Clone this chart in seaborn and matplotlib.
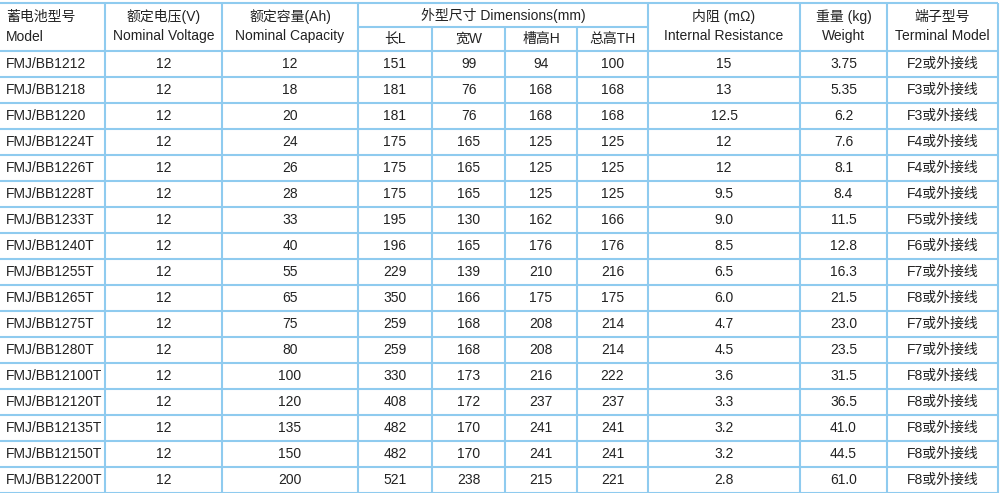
import matplotlib
matplotlib.use("Agg")
import matplotlib.pyplot as plt
import seaborn as sns

models = ["FMJ/BB1212", "FMJ/BB1218", "FMJ/BB1220", "FMJ/BB1224T", "FMJ/BB1226T",
          "FMJ/BB1228T", "FMJ/BB1233T", "FMJ/BB1240T", "FMJ/BB1255T", "FMJ/BB1265T",
          "FMJ/BB1275T", "FMJ/BB1280T", "FMJ/BB12100T", "FMJ/BB12120T", "FMJ/BB12135T",
          "FMJ/BB12150T", "FMJ/BB12200T"]
voltage = ["12"] * 17
capacity = ["12", "18", "20", "24", "26", "28", "33", "40", "55", "65", "75", "80",
            "100", "120", "135", "150", "200"]
length = ["151", "181", "181", "175", "175", "175", "195", "196", "229", "350", "259",
          "259", "330", "408", "482", "482", "521"]
width = ["99", "76", "76", "165", "165", "165", "130", "165", "139", "166", "168",
         "168", "173", "172", "170", "170", "238"]
height_h = ["94", "168", "168", "125", "125", "125", "162", "176", "210", "175", "208",
            "208", "216", "237", "241", "241", "215"]
height_th = ["100", "168", "168", "125", "125", "125", "166", "176", "216", "175", "214",
             "214", "222", "237", "241", "241", "221"]
resistance = ["15", "13", "12.5", "12", "12", "9.5", "9.0", "8.5", "6.5", "6.0", "4.7",
              "4.5", "3.6", "3.3", "3.2", "3.2", "2.8"]
weight = ["3.75", "5.35", "6.2", "7.6", "8.1", "8.4", "11.5", "12.8", "16.3", "21.5",
          "23.0", "23.5", "31.5", "36.5", "41.0", "44.5", "61.0"]
terminal = ["F2或外接线", "F3或外接线", "F3或外接线", "F4或外接线", "F4或外接线",
            "F4或外接线", "F5或外接线", "F6或外接线", "F7或外接线", "F8或外接线",
            "F7或外接线", "F7或外接线", "F8或外接线", "F8或外接线", "F8或外接线",
            "F8或外接线", "F8或外接线"]

headers = [("蓄电池型号", "Model"), ("额定电压(V)", "Nominal Voltage"),
           ("额定容量(Ah)", "Nominal Capacity")]
dim_title = "外型尺寸 Dimensions(mm)"
dim_sub = ["长L", "宽W", "槽高H", "总高TH"]
headers_right = [("内阻 (mΩ)", "Internal Resistance"), ("重量 (kg)", "Weight"),
                 ("端子型号", "Terminal Model")]

sns.set_theme(style="white")
plt.rcParams['font.family'] = ['Liberation Sans', 'Noto Sans CJK SC', 'DejaVu Sans']

cols = [models, voltage, capacity, length, width, height_h, height_th, resistance, weight, terminal]
edges = [0, 105, 222, 358, 432, 505, 577, 648, 800, 887, 998]
line_c = "#8fcbef"
txt_c = "#222222"
top, head_bot, sub_y, row_h = 3, 51, 27, 26

fig = plt.figure(figsize=(10, 4.93), dpi=100)
ax = fig.add_axes([0, 0, 1, 1])
ax.set_xlim(0, 1000)
ax.set_ylim(493, 0)
ax.axis("off")

n = len(models)
ax.hlines([top, head_bot] + [head_bot + row_h * (i + 1) for i in range(n)], 0, edges[-1],
          color=line_c, lw=1.5)
ax.hlines(sub_y, edges[3], edges[7], color=line_c, lw=1.5)
for i, x in enumerate(edges[1:]):
    y0 = sub_y if i + 1 in (4, 5, 6) else top
    ax.vlines(x, y0, head_bot + row_h * n, color=line_c, lw=1.5)

fs = 10
for i, (cn, en) in enumerate(headers):
    if i == 0:
        ax.text(6, 17, cn, ha="left", va="center", fontsize=fs, color=txt_c)
        ax.text(6, 37, en, ha="left", va="center", fontsize=fs, color=txt_c)
    else:
        xc = (edges[i] + edges[i + 1]) / 2
        ax.text(xc, 17, cn, ha="center", va="center", fontsize=fs, color=txt_c)
        ax.text(xc, 36, en, ha="center", va="center", fontsize=fs, color=txt_c)
ax.text((edges[3] + edges[7]) / 2, 15, dim_title, ha="center", va="center", fontsize=fs, color=txt_c)
for j, s in enumerate(dim_sub):
    ax.text((edges[3 + j] + edges[4 + j]) / 2, 39, s, ha="center", va="center", fontsize=fs, color=txt_c)
for j, (cn, en) in enumerate(headers_right):
    xc = (edges[7 + j] + edges[8 + j]) / 2
    ax.text(xc, 17, cn, ha="center", va="center", fontsize=fs, color=txt_c)
    ax.text(xc, 36, en, ha="center", va="center", fontsize=fs, color=txt_c)

for r in range(n):
    yc = head_bot + row_h * r + row_h / 2
    for c, col in enumerate(cols):
        if c == 0:
            ax.text(6, yc, col[r], ha="left", va="center", fontsize=fs, color=txt_c)
        else:
            ax.text((edges[c] + edges[c + 1]) / 2, yc, col[r], ha="center", va="center",
                    fontsize=fs, color=txt_c)

fig.savefig("out.png", dpi=100, facecolor="white")
